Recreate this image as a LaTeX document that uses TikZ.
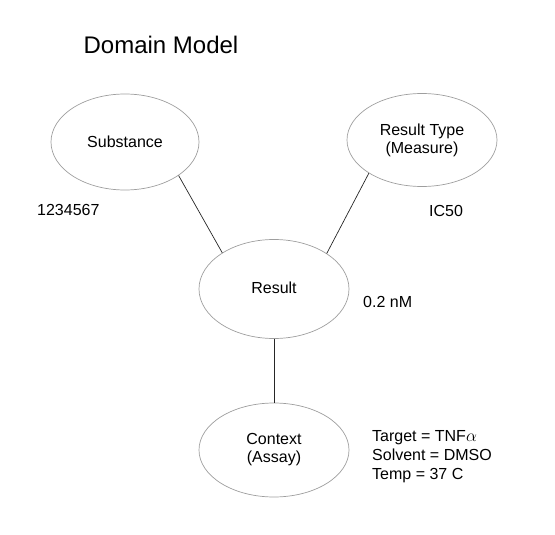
\documentclass[tikz,border=0pt]{standalone}
\usepackage{fontspec}
\setmainfont{Liberation Sans}
\usetikzlibrary{shapes.geometric}
\begin{document}
\begin{tikzpicture}[x=1pt,y=-1pt,
  oval/.style={ellipse,draw=black!38,line width=0.7pt,inner sep=0pt,align=center,
    font=\fontsize{16}{18}\selectfont},
  lbl/.style={inner sep=0pt,font=\fontsize{16}{19}\selectfont,align=left},
  link/.style={draw=black!85,line width=0.7pt}]
\useasboundingbox (0,0) rectangle (555,535);
\node[inner sep=0pt,font=\fontsize{24}{28}\selectfont] (title) at (161,45) {Domain Model};
\node[oval,minimum width=148pt,minimum height=96pt] (sub) at (125,142) {Substance};
\node[oval,minimum width=150pt,minimum height=93pt] (rt) at (422,140) {Result Type\\(Measure)};
\node[oval,minimum width=150pt,minimum height=99pt] (res) at (274,289) {\raisebox{2pt}{Result}};
\node[oval,minimum width=150pt,minimum height=94pt] (ctx) at (274,450) {Context\\(Assay)};
\node[lbl,anchor=west] (id) at (37,210) {1234567};
\node[lbl,anchor=west] (ic) at (429,211) {IC50};
\node[lbl,anchor=west] (val) at (363,302) {0.2 nM};
\node[lbl,anchor=west] (cond) at (372,457) {Target = TNF$\alpha$\\Solvent = DMSO\\Temp = 37 C};
\draw[link] (sub.-32.7) -- (res.145);
\draw[link] (rt.212) -- (res.34);
\draw[link] (res.south) -- (ctx.north);
\end{tikzpicture}
\end{document}
